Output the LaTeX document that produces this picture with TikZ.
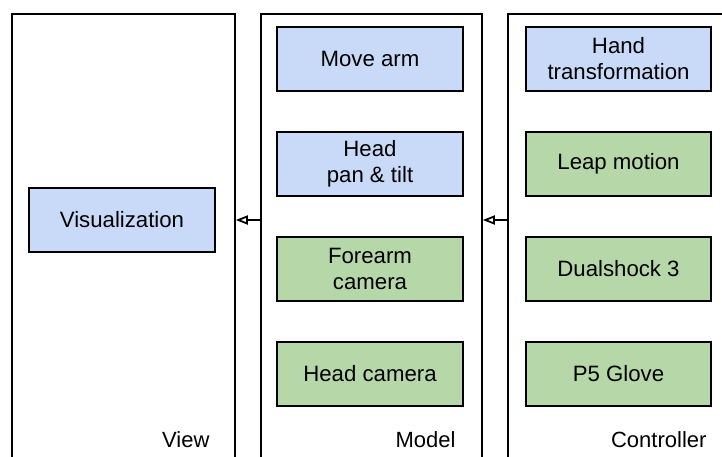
\documentclass[tikz,border=0pt]{standalone}
\usepackage{fontspec}
\setmainfont{Liberation Sans}
\usetikzlibrary{arrows.meta,positioning}
\definecolor{myblue}{RGB}{201,218,248}
\definecolor{mygreen}{RGB}{182,215,168}
\newcommand{\widthbox}{186pt}
\newcommand{\heightbox}{64pt}
\newcommand{\gapbox}{39.2pt}
\tikzset{
    common/.style={draw, rectangle, line width=1.8pt, align=center, inner sep=0pt,
        font=\fontsize{22.2}{26}\selectfont, minimum width=\widthbox, minimum height=\heightbox},
    bluebox/.style={common, fill=myblue},
    greenbox/.style={common, fill=mygreen},
    panel/.style={draw, rectangle, line width=1.8pt, anchor=north west, inner sep=0pt, minimum height=470pt},
    tag/.style={anchor=base east, font=\fontsize{22}{26}\selectfont},
    flow/.style={-{Triangle[open, length=12pt, width=9pt]}, line width=1.8pt}
}

\begin{document}
\begin{tikzpicture}[x=1pt, y=-1pt]
        \useasboundingbox (0,0) rectangle (722,456);

        % the three columns
        \node[panel, minimum width=223pt] (view) at (11,13) {};
        \node[panel, minimum width=221pt] (model) at (260,13) {};
        \node[panel, minimum width=240pt] (controller) at (507,13) {};
        \node[tag] (viewtag) at (213,447) {View};
        \node[tag] (modeltag) at (459,447) {Model};
        \node[tag] (controllertag) at (710,447) {Controller};

        \node[bluebox] (viz) at (122,220) {Visualization};

        \node[bluebox] (movearm) at (370,59) {Move arm};
        \node[bluebox, below=\gapbox of movearm] (headpan) {Head\\pan \& tilt};
        \node[greenbox, below=\gapbox of headpan] (forearm) {Forearm\\camera};
        \node[greenbox, below=\gapbox of forearm] (headcam) {Head camera};

        \node[bluebox, minimum width=185pt] (handtrans) at (618.5,59) {Hand\\transformation};
        \node[greenbox, minimum width=185pt, below=\gapbox of handtrans] (leap) {Leap motion};
        \node[greenbox, minimum width=185pt, below=\gapbox of leap] (dualshock) {Dualshock 3};
        \node[greenbox, minimum width=185pt, below=\gapbox of dualshock] (glove) {P5 Glove};

        \draw[flow] (model.west |- viz.center) -- (view.east |- viz.center);
        \draw[flow] (controller.west |- viz.center) -- (model.east |- viz.center);
    \end{tikzpicture}
\end{document}
